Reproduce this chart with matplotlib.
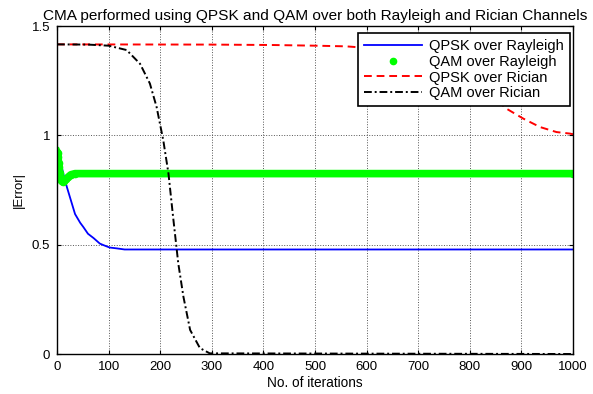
import matplotlib
matplotlib.use("Agg")
import matplotlib.pyplot as plt
from matplotlib.lines import Line2D

plt.rcParams["font.family"] = ["Liberation Sans", "DejaVu Sans"]

# QPSK over Rayleigh (blue)
qpsk_ray_x = [0, 6, 12, 19, 25, 35, 45, 51, 60, 71, 83, 90, 102, 116, 131, 1000]
qpsk_ray_y = [0.945, 0.89, 0.826, 0.765, 0.718, 0.64, 0.60, 0.581, 0.55, 0.53,
              0.505, 0.498, 0.487, 0.483, 0.478, 0.478]

# QAM over Rayleigh (green dots)
qam_ray_x = [0, 1, 2, 3, 4, 5, 7, 9, 11, 14, 18, 22, 27, 35, 1000]
qam_ray_y = [0.925, 0.92, 0.90, 0.875, 0.855, 0.83, 0.80, 0.79, 0.787, 0.79,
             0.80, 0.81, 0.82, 0.825, 0.825]

# QPSK over Rician (red dashed)
qpsk_ric_x = [0, 300, 420, 500, 560, 600, 650, 700, 750, 800, 850, 871, 904, 936, 968, 994, 1000]
qpsk_ric_y = [1.416, 1.415, 1.413, 1.41, 1.407, 1.40, 1.39, 1.37, 1.33, 1.26, 1.165,
              1.122, 1.076, 1.038, 1.015, 1.008, 1.005]

# QAM over Rician (black dash-dot)
qam_ric_x = [0, 60, 100, 135, 161, 180, 193, 206, 216, 225, 235, 245, 258, 277, 296, 1000]
qam_ric_y = [1.416, 1.415, 1.41, 1.39, 1.327, 1.237, 1.13, 0.977, 0.826, 0.627,
             0.415, 0.262, 0.11, 0.027, 0.003, 0.0]

fig = plt.figure(figsize=(5.93, 3.94), dpi=100)
ax = fig.add_axes([0.0961, 0.1015, 0.8702, 0.8325])

ax.plot(qpsk_ray_x, qpsk_ray_y, color="#0000ff", lw=1.3)
ax.plot(qam_ray_x, qam_ray_y, color="#00ff00", lw=5.5, marker=".", ms=9)
ax.plot(qpsk_ric_x, qpsk_ric_y, color="#ff0000", lw=1.4, ls=(0, (4, 2.5)))
ax.plot(qam_ric_x, qam_ric_y, color="black", lw=1.4, ls=(0, (4, 1.5, 1, 1.5)))

ax.set_xlim(0, 1000)
ax.set_ylim(0, 1.5)
ax.set_xticks(range(0, 1001, 100))
ax.set_yticks([0, 0.5, 1, 1.5])
ax.set_yticklabels(["0", "0.5", "1", "1.5"])
ax.tick_params(direction="in", top=True, right=True, labelsize=9.5, length=3, pad=5)
ax.grid(True, color="#555555", ls=":", lw=0.7)
for s in ax.spines.values():
    s.set_linewidth(1.0)

ax.set_title("CMA performed using QPSK and QAM over both Rayleigh and Rician Channels",
             fontsize=11.1, pad=4)
ax.set_xlabel("No. of iterations", fontsize=9.8, labelpad=2)
ax.set_ylabel("|Error|", fontsize=9.5)
ax.yaxis.set_label_coords(-0.062, 0.5)

handles = [
    Line2D([], [], color="#0000ff", lw=1.3),
    Line2D([], [], color="#00ff00", ls="none", marker=".", ms=9),
    Line2D([], [], color="#ff0000", lw=1.4, ls=(0, (4, 2.5))),
    Line2D([], [], color="black", lw=1.4, ls=(0, (4, 1.5, 1, 1.5))),
]
labels = ["QPSK over Rayleigh", "QAM over Rayleigh", "QPSK over Rician", "QAM over Rician"]
leg = ax.legend(handles, labels, loc="upper right", bbox_to_anchor=(0.994, 0.978),
                fontsize=10.5, fancybox=False, framealpha=1, edgecolor="black",
                handlelength=4.0, borderpad=0.4, labelspacing=0.12, handletextpad=0.5,
                borderaxespad=0)
leg.get_frame().set_linewidth(1.2)

fig.savefig("out.png", dpi=100)
